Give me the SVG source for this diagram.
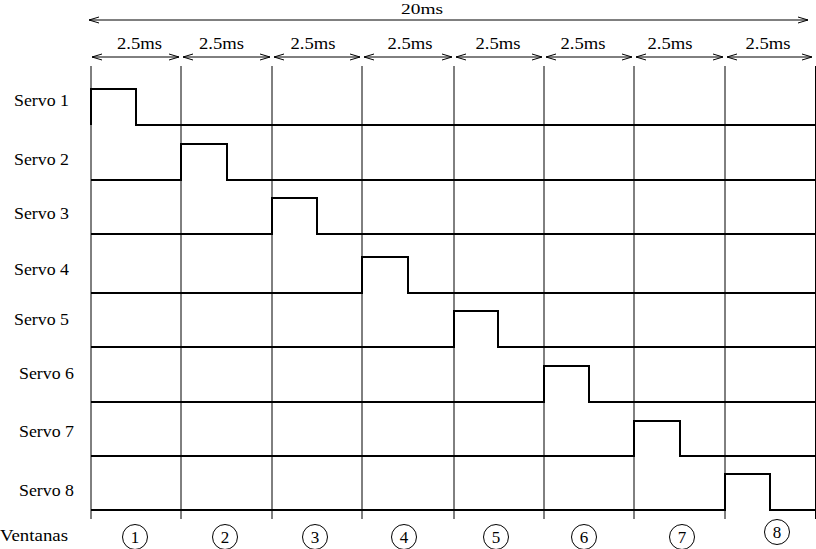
<svg xmlns="http://www.w3.org/2000/svg" width="816" height="549" viewBox="0 0 816 549">
<style>
text{font-family:'Liberation Serif','DejaVu Serif',serif;font-size:17px;fill:#000}
.grid{stroke:#000;stroke-width:1;fill:none}
.sig{stroke:#000;stroke-width:2;fill:none;stroke-linejoin:miter}
.dim{stroke:#000;stroke-width:1;fill:none}
.c{stroke:#000;stroke-width:1;fill:none}
.mid{text-anchor:middle}
</style>
<defs>
<marker id="ah" viewBox="0 0 10 8" refX="10" refY="4" markerWidth="10" markerHeight="8" markerUnits="userSpaceOnUse" orient="auto-start-reverse">
<path d="M0,1 L10,4 L0,7" fill="none" stroke="#000" stroke-width="1"/>
</marker>
</defs>
<rect width="816" height="549" fill="#fff"/>
<g id="grid">
<line class="grid" x1="91" y1="66" x2="91" y2="519"/>
<line class="grid" x1="181" y1="66" x2="181" y2="519"/>
<line class="grid" x1="272" y1="66" x2="272" y2="519"/>
<line class="grid" x1="362" y1="66" x2="362" y2="519"/>
<line class="grid" x1="454" y1="66" x2="454" y2="519"/>
<line class="grid" x1="544" y1="66" x2="544" y2="519"/>
<line class="grid" x1="634" y1="66" x2="634" y2="519"/>
<line class="grid" x1="725" y1="66" x2="725" y2="519"/>
<line class="grid" x1="815.5" y1="66" x2="815.5" y2="519"/>
</g>
<g id="connectors">
<line class="dim" x1="89" y1="20" x2="808" y2="20" marker-start="url(#ah)" marker-end="url(#ah)"/>
<line class="dim" x1="92" y1="57" x2="179" y2="57" marker-start="url(#ah)" marker-end="url(#ah)"/>
<line class="dim" x1="183" y1="57" x2="270" y2="57" marker-start="url(#ah)" marker-end="url(#ah)"/>
<line class="dim" x1="274" y1="57" x2="360" y2="57" marker-start="url(#ah)" marker-end="url(#ah)"/>
<line class="dim" x1="364" y1="57" x2="452" y2="57" marker-start="url(#ah)" marker-end="url(#ah)"/>
<line class="dim" x1="456" y1="57" x2="542" y2="57" marker-start="url(#ah)" marker-end="url(#ah)"/>
<line class="dim" x1="546" y1="57" x2="632" y2="57" marker-start="url(#ah)" marker-end="url(#ah)"/>
<line class="dim" x1="636" y1="57" x2="723" y2="57" marker-start="url(#ah)" marker-end="url(#ah)"/>
<line class="dim" x1="727" y1="57" x2="812" y2="57" marker-start="url(#ah)" marker-end="url(#ah)"/>
</g>
<g id="labels-top">
<text x="422" y="14" class="mid" style="font-size:15px" textLength="42" lengthAdjust="spacingAndGlyphs">20ms</text>
<text x="139.5" y="49" class="mid" textLength="45" lengthAdjust="spacingAndGlyphs">2.5ms</text>
<text x="221.5" y="49" class="mid" textLength="45" lengthAdjust="spacingAndGlyphs">2.5ms</text>
<text x="313" y="49" class="mid" textLength="45" lengthAdjust="spacingAndGlyphs">2.5ms</text>
<text x="410" y="49" class="mid" textLength="45" lengthAdjust="spacingAndGlyphs">2.5ms</text>
<text x="498" y="49" class="mid" textLength="45" lengthAdjust="spacingAndGlyphs">2.5ms</text>
<text x="583" y="49" class="mid" textLength="45" lengthAdjust="spacingAndGlyphs">2.5ms</text>
<text x="670" y="49" class="mid" textLength="45" lengthAdjust="spacingAndGlyphs">2.5ms</text>
<text x="768" y="49" class="mid" textLength="45" lengthAdjust="spacingAndGlyphs">2.5ms</text>
</g>
<g id="servo1"><text x="14" y="106" textLength="55" lengthAdjust="spacingAndGlyphs">Servo 1</text><path class="sig" d="M91,125 V89 H136 V125 H816"/></g>
<g id="servo2"><text x="14" y="165" textLength="55" lengthAdjust="spacingAndGlyphs">Servo 2</text><path class="sig" d="M91,180 H181 V144 H227 V180 H816"/></g>
<g id="servo3"><text x="14" y="219" textLength="55" lengthAdjust="spacingAndGlyphs">Servo 3</text><path class="sig" d="M91,234 H272 V198 H317 V234 H816"/></g>
<g id="servo4"><text x="14" y="275" textLength="55" lengthAdjust="spacingAndGlyphs">Servo 4</text><path class="sig" d="M91,293 H362 V257 H408 V293 H816"/></g>
<g id="servo5"><text x="14" y="325" textLength="55" lengthAdjust="spacingAndGlyphs">Servo 5</text><path class="sig" d="M91,347 H454 V311 H498 V347 H816"/></g>
<g id="servo6"><text x="19" y="379" textLength="55" lengthAdjust="spacingAndGlyphs">Servo 6</text><path class="sig" d="M91,402 H544 V366 H589 V402 H816"/></g>
<g id="servo7"><text x="19" y="437" textLength="55" lengthAdjust="spacingAndGlyphs">Servo 7</text><path class="sig" d="M91,456 H634 V421 H680 V456 H816"/></g>
<g id="servo8"><text x="19" y="496" textLength="55" lengthAdjust="spacingAndGlyphs">Servo 8</text><path class="sig" d="M91,510 H725 V474 H770 V510 H816"/></g>
<g id="ventanas">
<text x="0" y="541" textLength="68" lengthAdjust="spacingAndGlyphs">Ventanas</text>
<g id="w1"><circle class="c" cx="135" cy="537" r="12.5"/><text x="135" y="543" class="mid">1</text></g>
<g id="w2"><circle class="c" cx="225" cy="537" r="12.5"/><text x="225" y="543" class="mid">2</text></g>
<g id="w3"><circle class="c" cx="315" cy="537" r="12.5"/><text x="315" y="543" class="mid">3</text></g>
<g id="w4"><circle class="c" cx="404" cy="537" r="12.5"/><text x="404" y="543" class="mid">4</text></g>
<g id="w5"><circle class="c" cx="496" cy="537" r="12.5"/><text x="496" y="543" class="mid">5</text></g>
<g id="w6"><circle class="c" cx="584" cy="537" r="12.5"/><text x="584" y="543" class="mid">6</text></g>
<g id="w7"><circle class="c" cx="682" cy="537" r="12.5"/><text x="682" y="543" class="mid">7</text></g>
<g id="w8"><circle class="c" cx="777" cy="532" r="12.5"/><text x="777" y="538" class="mid">8</text></g>
</g>
</svg>
